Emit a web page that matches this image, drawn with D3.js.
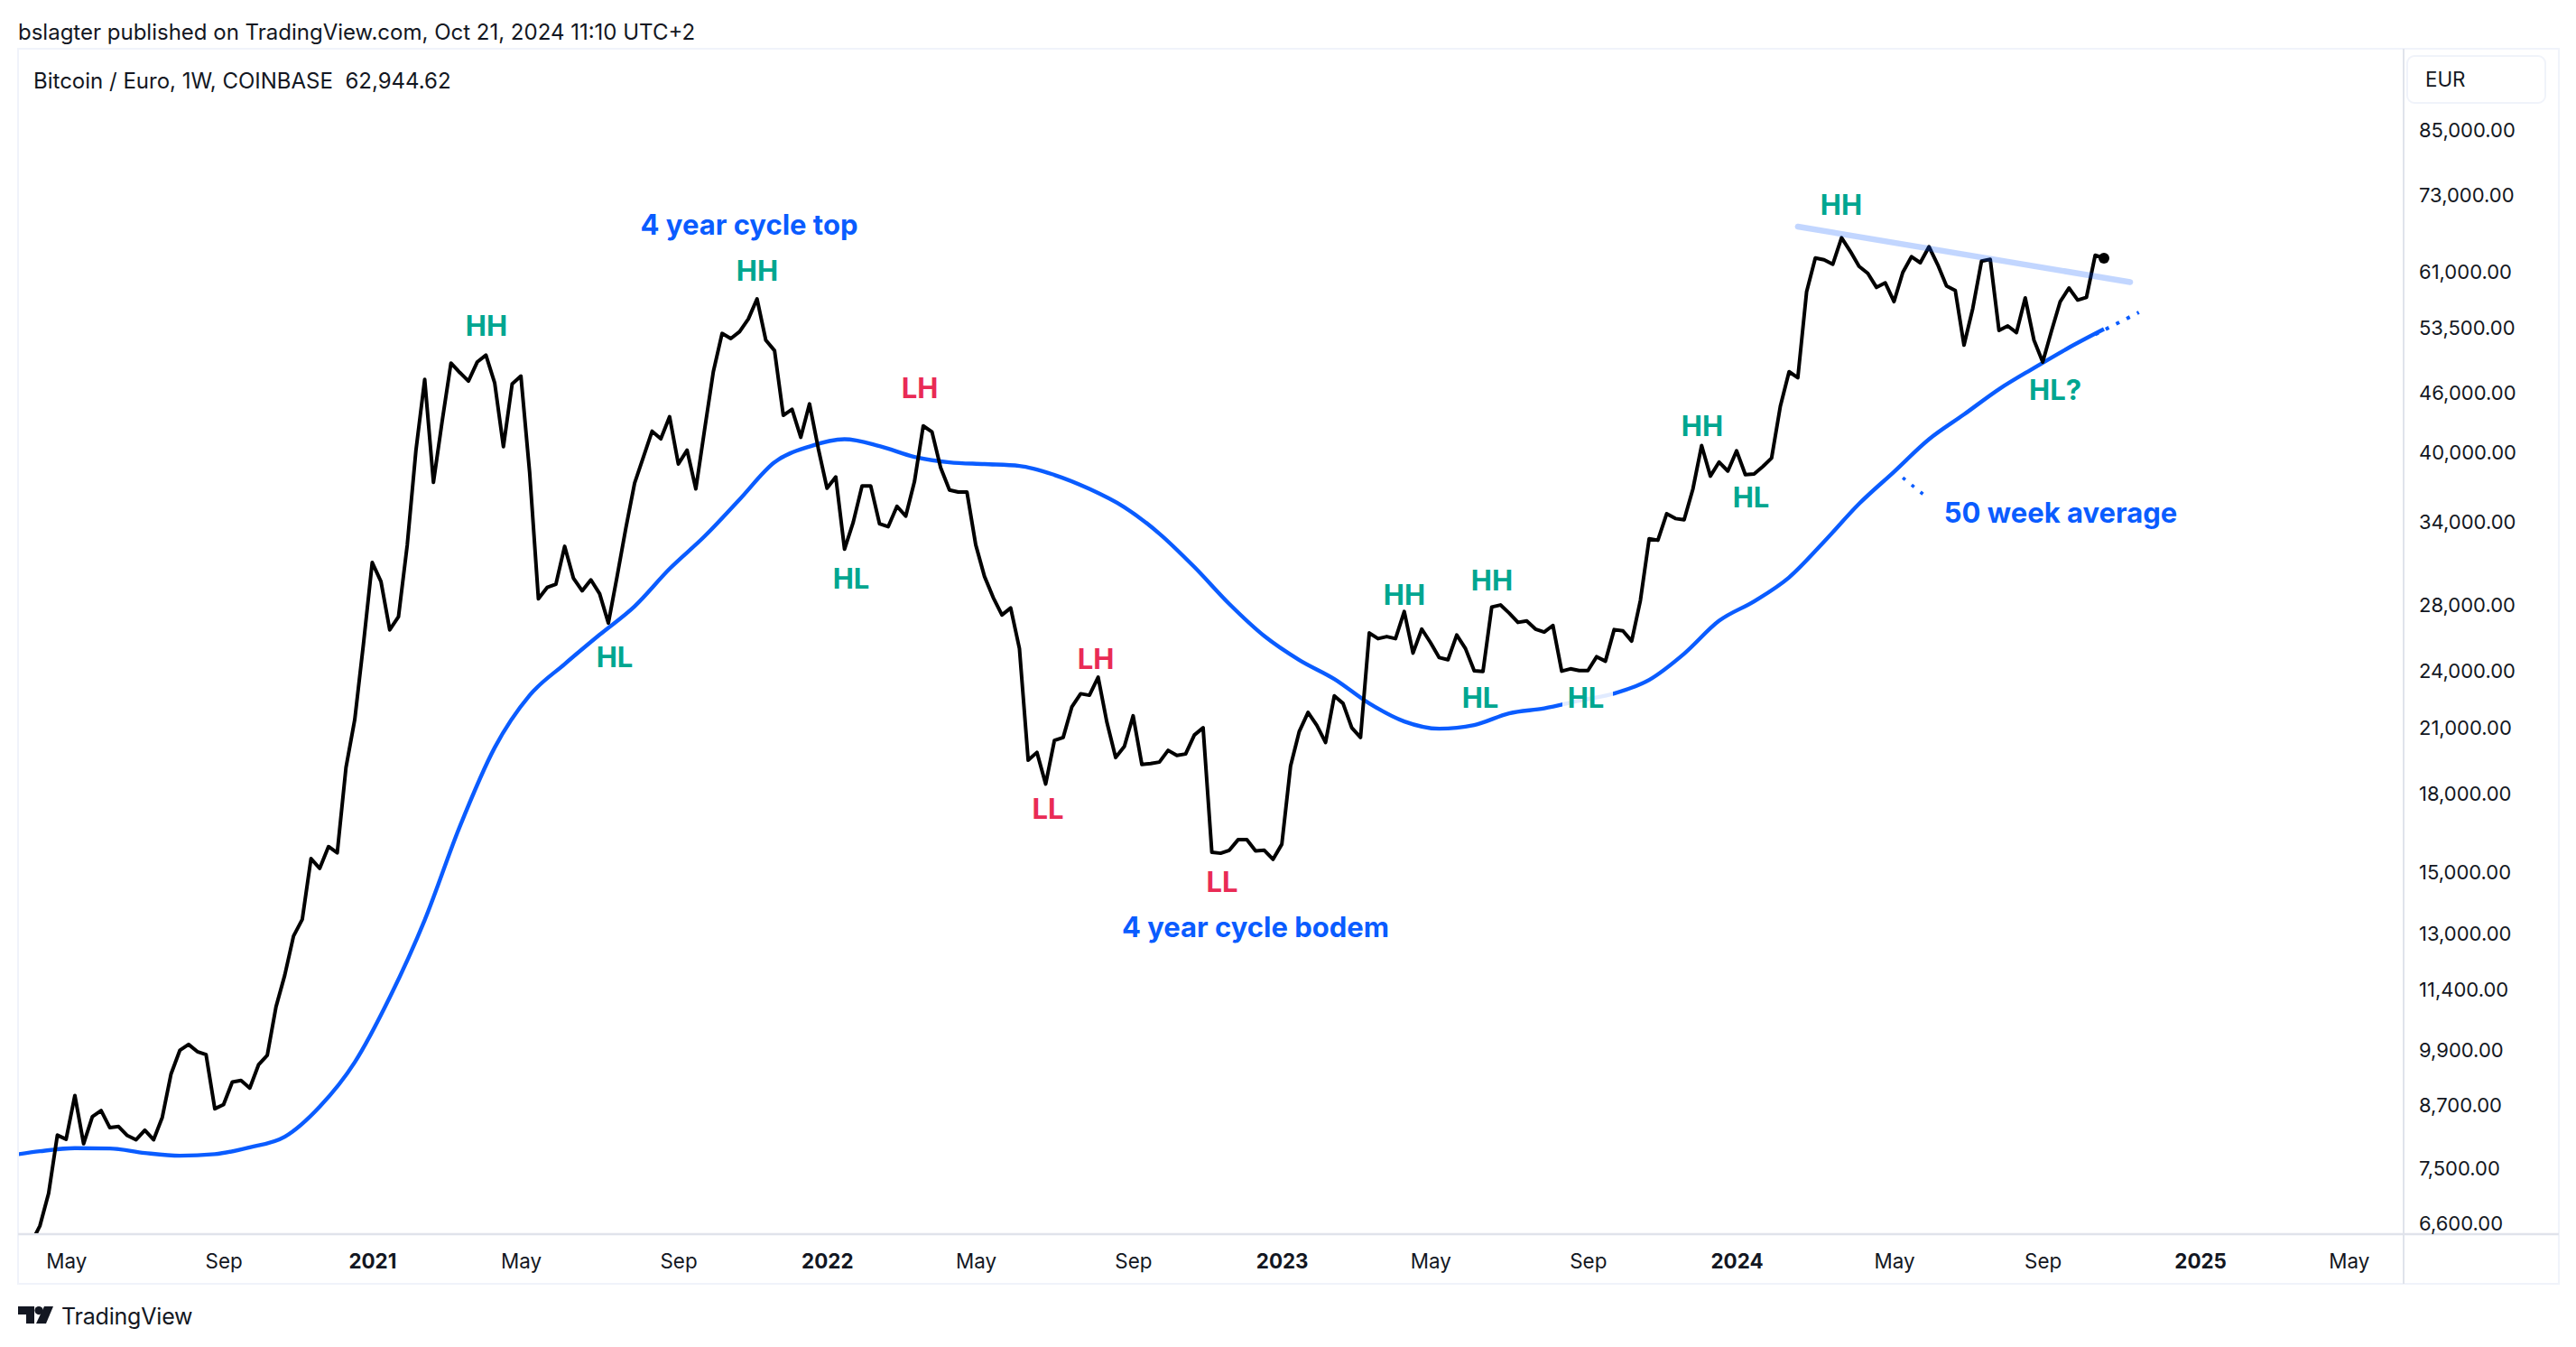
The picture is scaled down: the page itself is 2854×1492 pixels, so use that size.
<!DOCTYPE html>
<html><head><meta charset="utf-8">
<script src="https://cdn.jsdelivr.net/npm/d3@7/dist/d3.min.js"></script>
<style>
html,body{margin:0;padding:0;background:#fff}
svg{display:block}
text{font-family:Inter,Roboto,sans-serif;fill:#131722}
.note{font-family:Inter,Roboto,sans-serif;font-weight:700}
</style></head><body>
<svg id="c" width="2854" height="1492"></svg>
<script>
// Weekly closes in EUR, one value per Monday, starting 2020-04-06
const closes2020=[6300,6560,7080,8110,8033,8897,7949,8468,8589,8252,8274,8102,8023,8204,8023,8458,9358,9886,10025,9858,9788,8625,8711,9182,9214,9053,9558,9774,10947,11786,12913,13425,15473,15126,15915,15686,19147,21407,25569];
const closes2021=[30910,29570,26408,27228,32180,40184,47413,37277,43035,49248,48189,47224,49372,50170,47035,40510,46917,47784,38128,28396,29160,29377,32104,29808,28929,29680,28739,26834,29927,33509,37214,39534,42005,41265,43454,38909,40184,36707,42146,48269,52787,52156,53009,54597,57226,51971,50712,43594,44213,41415,44777,40347];
const closes2022=[36769,37744,31884,33966,36955,36955,33845,33611,35252,34443,37350,42532,41943,38548,36615,36437,36437,32219,29927,28485,27348,27796,25279,19476,19834,18421,20397,20537,22066,22748,22666,23644,21277,19596,20112,21606,19281,19321,19390,19929,19691,19762,20657,21009,15703,15669,15779,16173,16173,15759,15779,15449];
const closes2023=[16003,19215,20832,21775,21128,20298,22633,22239,21009,20537,26219,25872,25998,25872,27561,25013,26458,25633,24751,24627,26091,25279,24000,23960,27854,27990,27463,26874,26965,26458,26275,26682,23980,24110,24010,24010,24802,24543,26424,26344,25726,28287,32674,32562,34641,34253,34154,36692,40630,37821,39087,38275];
const closes2024=[40123,37952,38008,38677,39453,44525,48269,47603,58165,62970,62704,62048,66018,63961,61746,60753,58783,59409,56866,60877,63156,62270,64637,61968,58981,58365,51359,55952,62493,62760,53155,53722,52897,57351,51971,49372,53076,56866,58696,57072,57434,63366,62944.62];
// 50 week average read every fourth week, starting 2020-03-16
const average50=[7718,7811,7866,7861,7778,7729,7757,7882,8079,8668,9615,11188,13406,16668,20055,22666,24378,26110,27902,30457,32859,35811,39063,40533,41224,40576,39563,39063,38901,38734,37927,36708,35175,33068,30584,28052,26027,24610,23543,22239,21322,20964,21143,21730,21984,22381,22763,23495,24977,26975,28228,29852,32447,35453,38210,41224,43685,46343,48700,51068,53321];
const priceTicks=[85000,73000,61000,53500,46000,40000,34000,28000,24000,21000,18000,15000,13000,11400,9900,8700,7500,6600];
const timeTicks=[["2020-05-04","May"],["2020-09-07","Sep"],["2021-01-04","2021"],["2021-05-03","May"],["2021-09-06","Sep"],["2022-01-03","2022"],["2022-05-02","May"],["2022-09-05","Sep"],["2023-01-02","2023"],["2023-05-01","May"],["2023-09-04","Sep"],["2024-01-01","2024"],["2024-05-06","May"],["2024-09-02","Sep"],["2025-01-06","2025"],["2025-05-05","May"]];
const trendDates=["2024-02-19","2024-11-11"], trendValues=[67750,59508];
const extensionDates=["2024-10-14","2024-11-18"], extensionValues=[52650,55446];
const pointerDates=["2024-05-13","2024-06-03"], pointerValues=[37686,35851];
const labels=[
 ["4 year cycle top",830,249,"b"],["HH",539,361,"g"],["HH",839,300,"g"],["HL",681,728,"g"],["HL",943,641,"g"],["LH",1019,430,"r"],
 ["LL",1161,896,"r"],["LH",1214,730,"r"],["LL",1354,977,"r"],["4 year cycle bodem",1391,1027,"b"],["HH",1556,659,"g"],["HH",1653,643,"g"],
 ["HL",1640,773,"g"],["HL",1757,773,"g"],["HH",1886,472,"g"],["HL",1940,551,"g"],["HH",2040,227,"g"],["HL?",2277,432,"g"],["50 week average",2283,568,"b"]];
const noteColor={g:"#00a690",r:"#e92b55",b:"#0a5cff"};
const DAY=864e5, utc=s=>new Date(s+"T00:00:00Z");
const allCloses=[...closes2020,...closes2021,...closes2022,...closes2023,...closes2024];
const start=+utc("2020-04-06"), avgStart=+utc("2020-03-16");
const F={l:20,t:54,r:2835,b:1422,ax:2663,ay:1367};
const x=d3.scaleUtc().domain([utc("2021-01-04"),utc("2024-10-21")]).range([412.4,2331]);
const y=d3.scaleLog().domain([6600,85000]).range([1355,143.5]);
const svg=d3.select("#c");
svg.append("defs").append("clipPath").attr("id","plot").append("rect").attr("x",F.l+1).attr("y",F.t).attr("width",F.ax-F.l-1).attr("height",F.ay-F.t-1);
svg.append("rect").attr("width",2854).attr("height",1492).attr("fill","#fff");
// frame
svg.append("rect").attr("x",F.l).attr("y",F.t).attr("width",F.r-F.l).attr("height",F.b-F.t).attr("fill","none").attr("stroke","#f0f3fa").attr("stroke-width",2);
svg.append("line").attr("x1",F.ax).attr("x2",F.ax).attr("y1",F.t).attr("y2",F.b).attr("stroke","#e0e3eb").attr("stroke-width",2);
svg.append("line").attr("x1",F.l).attr("x2",F.r).attr("y1",F.ay).attr("y2",F.ay).attr("stroke","#e0e3eb").attr("stroke-width",2.5);
const plot=svg.append("g").attr("clip-path","url(#plot)");
const line=d3.line().x(d=>x(d[0])).y(d=>y(d[1]));
const smooth=d3.line().x(d=>x(d[0])).y(d=>y(d[1])).curve(d3.curveMonotoneX);
const closeSeries=allCloses.map((v,i)=>[new Date(start+i*7*DAY),v]);
const avgSeries=average50.map((v,i)=>[new Date(avgStart+i*28*DAY),v]);
const pair=(ds,vs)=>ds.map((s,i)=>[utc(s),vs[i]]);
plot.append("path").attr("d",smooth(avgSeries)).attr("fill","none").attr("stroke","#0a5cff").attr("stroke-width",4.4).attr("stroke-linejoin","round");
plot.append("path").attr("d",line(pair(extensionDates,extensionValues))).attr("fill","none").attr("stroke","#0a5cff").attr("stroke-width",4).attr("stroke-dasharray","4 9");
plot.append("path").attr("d",line(pair(pointerDates,pointerValues))).attr("fill","none").attr("stroke","#0a5cff").attr("stroke-width",3.6).attr("stroke-dasharray","3.6 9");
plot.append("path").attr("d",line(closeSeries)).attr("fill","none").attr("stroke","#000").attr("stroke-width",4).attr("stroke-linejoin","round");
plot.append("circle").attr("cx",x(closeSeries.at(-1)[0])).attr("cy",y(closeSeries.at(-1)[1])).attr("r",6).attr("fill","#000");
plot.append("path").attr("d",line(pair(trendDates,trendValues))).attr("fill","none").attr("stroke","#0a5cff").attr("stroke-opacity",.25).attr("stroke-width",6.5).attr("stroke-linecap","round");
// header
svg.append("text").attr("x",20).attr("y",35).attr("dy",".36em").attr("font-size",24).text("bslagter published on TradingView.com, Oct 21, 2024 11:10 UTC+2");
svg.append("text").attr("x",37).attr("y",89).attr("dy",".36em").attr("font-size",24).attr("xml:space","preserve").text("Bitcoin / Euro, 1W, COINBASE  62,944.62");
// y axis
const yAxis=d3.axisRight(y).tickValues(priceTicks).tickSize(0).tickPadding(0).tickFormat(d3.format(",.2f"));
const gy=svg.append("g").attr("transform",`translate(2680,0.5)`).call(yAxis);
gy.select(".domain").remove();
gy.selectAll("text").attr("font-size",22).attr("font-family","Inter,Roboto,sans-serif").attr("fill","#131722");
// x axis
const tickMap=new Map(timeTicks.map(([s,l])=>[+utc(s),l]));
const xAxis=d3.axisBottom(x).tickValues(timeTicks.map(t=>utc(t[0]))).tickSize(0).tickPadding(0).tickFormat(d=>tickMap.get(+d));
const gx=svg.append("g").attr("transform",`translate(0,${F.ay})`).call(xAxis);
gx.select(".domain").remove();
gx.selectAll("text").attr("y",30).attr("dy",".36em").attr("font-size",22.4).attr("font-family","Inter,Roboto,sans-serif").attr("fill","#131722")
  .attr("font-weight",d=>/^\d/.test(tickMap.get(+d))?700:400);
// EUR box
svg.append("rect").attr("x",2667).attr("y",62).attr("width",153).attr("height",52).attr("rx",8).attr("fill","#fff").attr("stroke","#f0f3fa").attr("stroke-width",2);
svg.append("text").attr("x",2687).attr("y",88).attr("dy",".36em").attr("font-size",22.4).text("EUR");
// halo behind the HL on the average
svg.append("rect").attr("x",1731).attr("y",752).attr("width",56).attr("height",42).attr("fill","#fff").attr("opacity",.88);
// notes
svg.append("g").selectAll("text").data(labels).join("text").attr("class","note")
 .attr("x",d=>d[1]).attr("y",d=>d[2]).attr("dy",".36em").attr("text-anchor","middle").attr("font-size",31)
 .style("fill",d=>noteColor[d[3]]).text(d=>d[0]);
// logo
const logo=svg.append("g").attr("transform","translate(20,1447)").attr("fill","#131722");
logo.append("path").attr("d","M0 0H18V19H9V9H0Z");
logo.append("circle").attr("cx",23).attr("cy",4.6).attr("r",4.6);
logo.append("path").attr("d","M29 0H39L31 19H20Z");
svg.append("text").attr("x",68).attr("y",1458).attr("dy",".36em").attr("font-size",25).attr("letter-spacing","-.2").text("TradingView");
</script></body></html>
